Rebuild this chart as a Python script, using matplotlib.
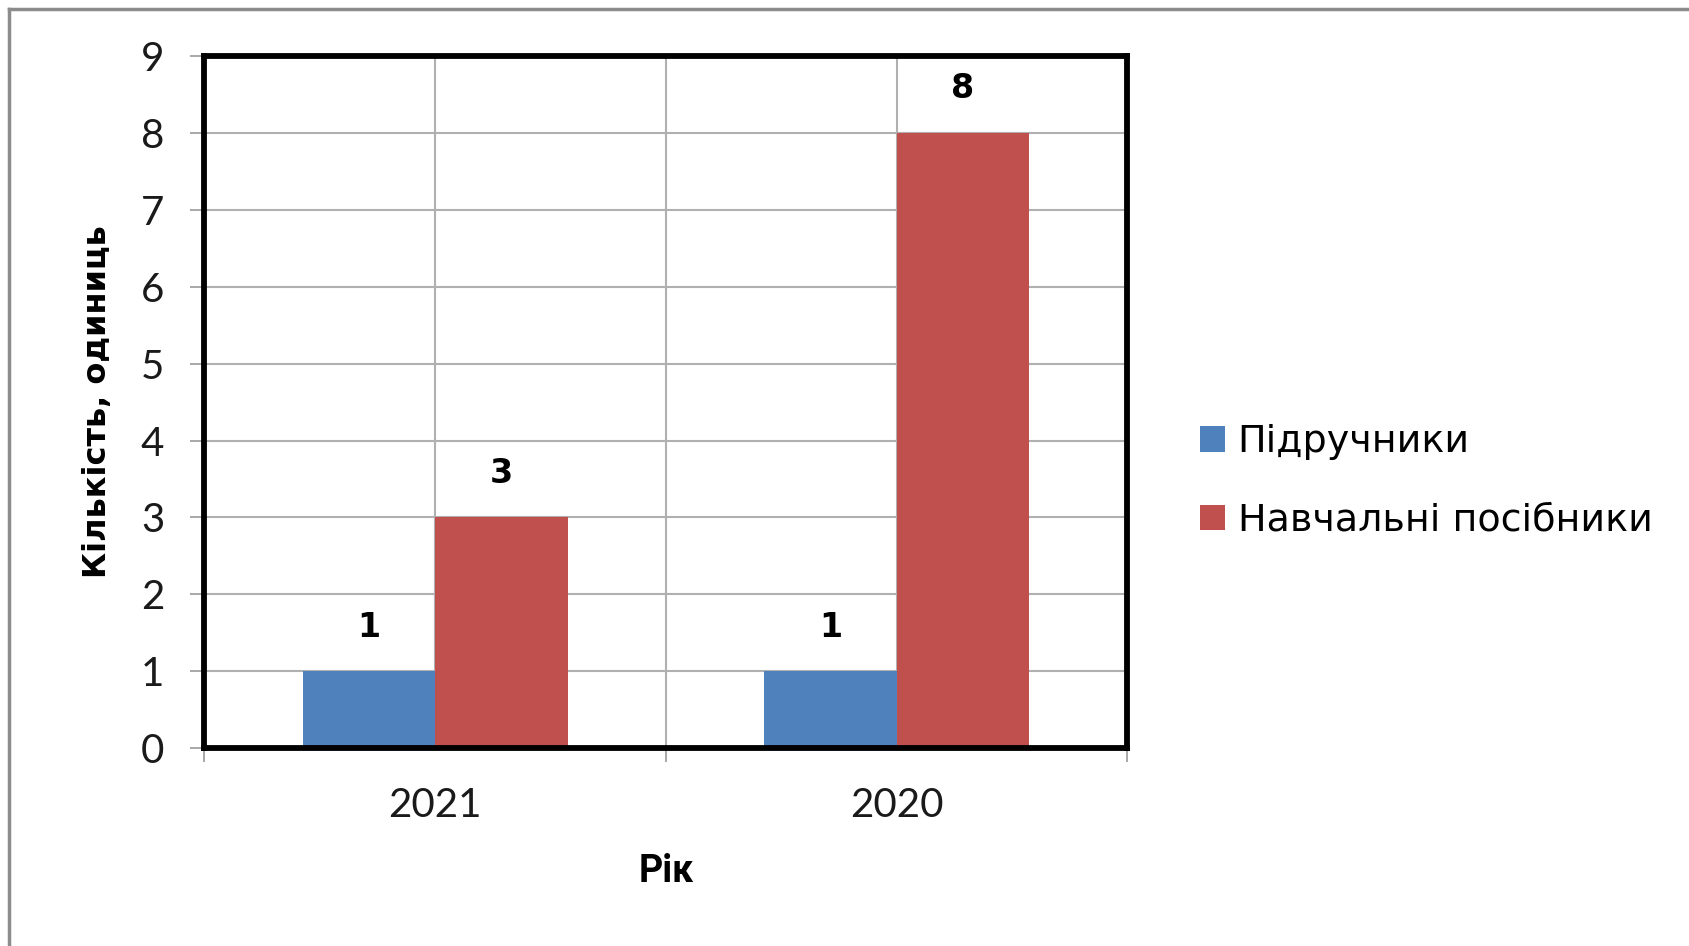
import matplotlib.pyplot as plt
from matplotlib.lines import Line2D
import numpy as np

# data
years = ['2021', '2020']
textbooks = [1, 1]          # Підручники
manuals = [3, 8]            # Навчальні посібники
series_names = ['Підручники', 'Навчальні посібники']

blue = '#4F81BD'
red = '#C0504D'

fig = plt.figure(figsize=(16.9, 9.46), dpi=100)
ax = fig.add_axes([0.121, 0.209, 0.546, 0.732])

x = np.arange(len(years))
w = 0.287
b1 = ax.bar(x - w / 2, textbooks, w, color=blue, label=series_names[0], zorder=3)
b2 = ax.bar(x + w / 2, manuals, w, color=red, label=series_names[1], zorder=3)

# value labels above bars
for bars in (b1, b2):
    for r in bars:
        ax.text(r.get_x() + r.get_width() / 2, r.get_height() + 0.36, f'{int(r.get_height())}',
                ha='center', va='bottom', fontsize=24, fontweight='bold',
                family='DejaVu Sans', color='black')

ax.set_xlim(-0.5, len(years) - 0.5)
ax.set_ylim(0, 9)
ax.set_yticks(range(0, 10))

# gridlines: horizontal at each integer, vertical at centres and middle
for yv in range(1, 9):
    ax.axhline(yv, color='#B0B0B0', lw=1.5, zorder=1)
for xv in [0, 0.5, 1]:
    ax.axvline(xv, color='#B0B0B0', lw=1.5, zorder=1)

ax.set_xticks([-0.5, 0.5, 1.5])
ax.set_xticklabels([])
ax.set_xticks(x, minor=True)
ax.set_xticklabels(years, minor=True)
ax.tick_params(axis='x', which='major', length=10, width=1.2, color='#999999', direction='out')
ax.tick_params(axis='x', which='minor', length=0, pad=28)
ax.tick_params(axis='y', length=10, width=1.2, color='#999999', direction='out', pad=19)
for lab in ax.get_yticklabels() + ax.get_xticklabels(minor=True):
    lab.set_fontfamily(['Lato', 'DejaVu Sans'])
    lab.set_fontsize(29)
    lab.set_color('#1a1a1a')

for s in ax.spines.values():
    s.set_linewidth(4.2)
    s.set_color('black')
    s.set_zorder(4)

ax.set_ylabel('Кількість, одиниць', fontsize=23, fontweight='bold', family='DejaVu Sans', labelpad=20)
fig.text(0.394, 0.079, 'Рік', ha='center', va='center', fontsize=27, fontweight='bold', family='Roboto')

fig.legend(handles=[b1, b2], labels=series_names, loc='center left',
           bbox_to_anchor=(0.690, 0.491), frameon=False,
           handlelength=0.66, handleheight=0.66, handletextpad=0.32, labelspacing=1.12,
           prop={'family': 'DejaVu Sans', 'size': 27.4})

# outer chart frame (only left and top edges visible in the cropped picture)
fig.add_artist(Line2D([0.0053, 0.0053], [0, 0.991], transform=fig.transFigure, color='#8C8C8C', lw=2.5))
fig.add_artist(Line2D([0.0053, 1.0], [0.991, 0.991], transform=fig.transFigure, color='#8C8C8C', lw=2.5))

plt.savefig('out.png', dpi=100)
